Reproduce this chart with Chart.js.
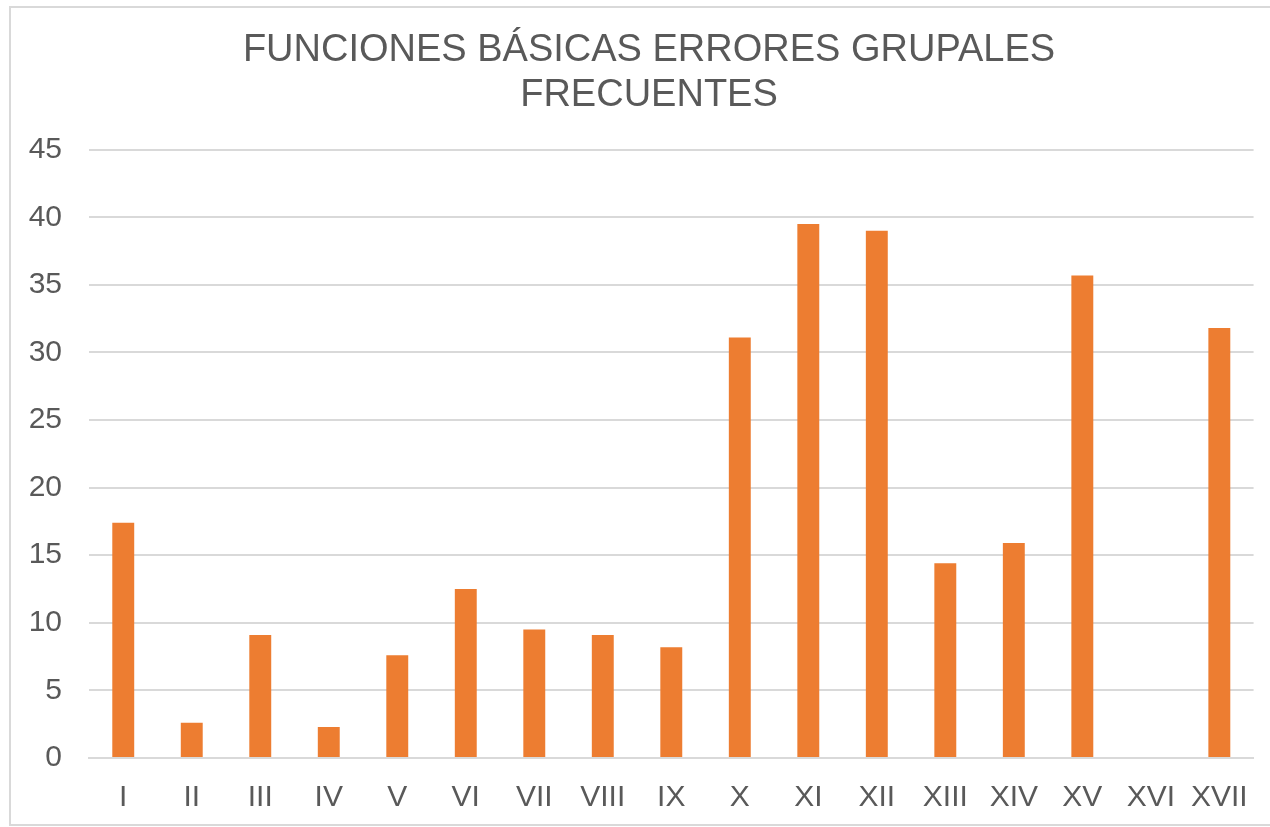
<!DOCTYPE html>
<html>
<head>
<meta charset="utf-8">
<script src="https://cdn.jsdelivr.net/npm/chart.js@4.4.0/dist/chart.umd.min.js"></script>
<style>
  html, body { margin: 0; padding: 0; background: #fff; }
  #frame { position: absolute; left: 9px; top: 6px; width: 1300px; height: 820px;
           border: 2px solid #d9d9d9; box-sizing: border-box; }
  #wrap { position: absolute; left: 0; top: 0; width: 1270px; height: 827px; }
</style>
</head>
<body>
<div id="frame"></div>
<div id="wrap"><canvas id="myChart"></canvas></div>
<script>
// data
var categories = ['I','II','III','IV','V','VI','VII','VIII','IX','X','XI','XII','XIII','XIV','XV','XVI','XVII'];
var values = [17.4, 2.6, 9.1, 2.3, 7.6, 12.5, 9.5, 9.1, 8.2, 31.1, 39.5, 39.0, 14.4, 15.9, 35.7, 0, 31.8];
var titleLines = ['FUNCIONES BÁSICAS ERRORES GRUPALES', 'FRECUENTES'];

var textColor = '#595959';
var gridColor = '#d9d9d9';
var barColor = '#ed7d31';

// the original title is centred on the whole frame, which runs past the right edge
var titleShift = {
  id: 'titleShift',
  afterLayout: function (chart) {
    if (chart.titleBlock) {
      chart.titleBlock.left += 39;
    }
  }
};

let ctx = document.getElementById('myChart').getContext('2d');
let myChart = new Chart(ctx, {
  type: 'bar',
  data: {
    labels: categories,
    datasets: [{
      data: values,
      backgroundColor: barColor,
      borderWidth: 0,
      barPercentage: 0.32,
      categoryPercentage: 1
    }]
  },
  options: {
    responsive: true,
    maintainAspectRatio: false,
    animation: false,
    layout: { padding: { left: 0, right: 11, top: 0, bottom: 0 } },
    plugins: {
      legend: { display: false },
      tooltip: { enabled: false },
      title: {
        display: true,
        text: titleLines,
        color: textColor,
        font: { family: 'Liberation Sans, Arial, sans-serif', size: 38, weight: 'normal', lineHeight: 1.18 },
        padding: { top: 28, bottom: 32 }
      }
    },
    scales: {
      x: {
        grid: { display: false, drawTicks: false },
        border: { display: true, color: gridColor, width: 2 },
        ticks: {
          color: textColor,
          padding: 22,
          maxRotation: 0,
          autoSkip: false,
          font: { family: 'Liberation Sans, Arial, sans-serif', size: 30 }
        },
        afterFit: function (scale) { scale.height = 69; }
      },
      y: {
        min: 0,
        max: 45,
        grid: { color: gridColor, lineWidth: 2, drawTicks: false },
        border: { display: false },
        ticks: {
          stepSize: 5,
          color: textColor,
          padding: 27,
          font: { family: 'Liberation Sans, Arial, sans-serif', size: 30 }
        },
        afterFit: function (scale) { scale.width = 89; }
      }
    }
  },
  plugins: [titleShift]
});
</script>
</body>
</html>
